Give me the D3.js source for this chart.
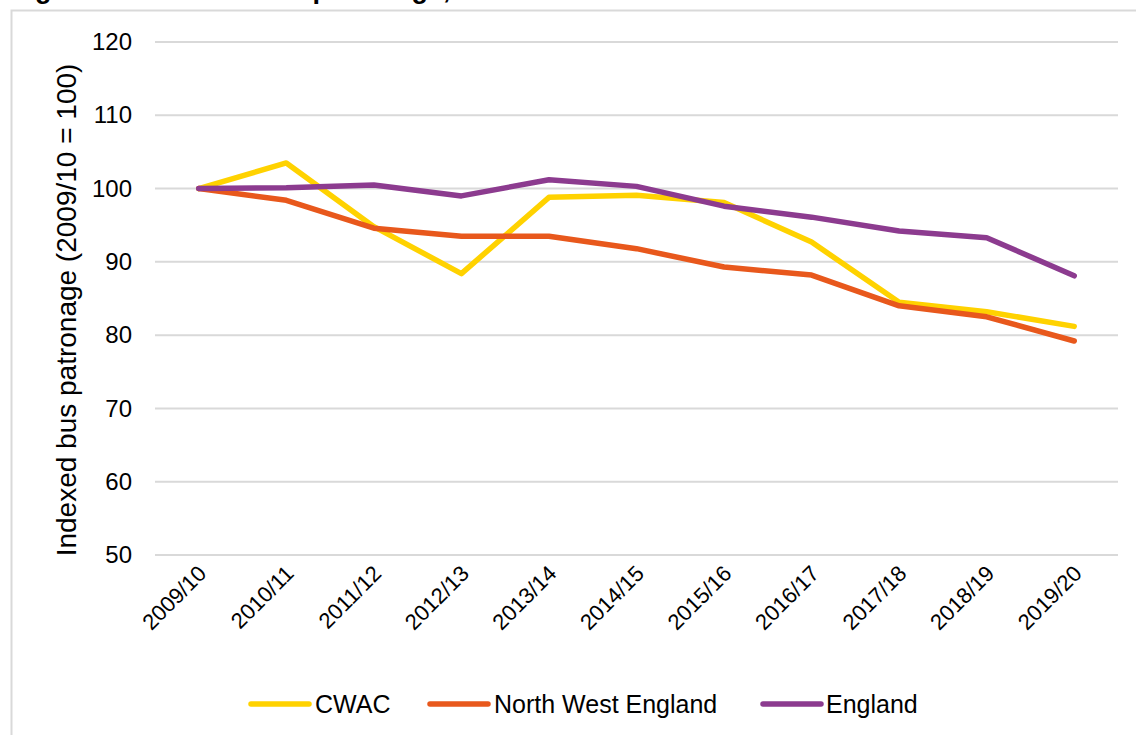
<!DOCTYPE html>
<html>
<head>
<meta charset="utf-8">
<script src="https://cdn.jsdelivr.net/npm/d3@7"></script>
<style>
  html, body { margin: 0; padding: 0; background: #fff; }
  svg { display: block; font-family: "Liberation Sans", Arial, sans-serif; }
</style>
</head>
<body>
<svg id="chart" width="1136" height="735"></svg>
<script>
// Indexed bus patronage, 2009/10 = 100
const years = ["2009/10", "2010/11", "2011/12", "2012/13", "2013/14", "2014/15",
               "2015/16", "2016/17", "2017/18", "2018/19", "2019/20"];
const cwac = [100, 103.5, 94.8, 88.4, 98.8, 99.1, 98.1, 92.7, 84.5, 83.2, 81.2];
const northWest = [100, 98.4, 94.6, 93.5, 93.5, 91.8, 89.3, 88.2, 84.0, 82.5, 79.2];
const england = [100, 100.1, 100.5, 99.0, 101.2, 100.3, 97.6, 96.1, 94.2, 93.3, 88.1];
const yTicks = [50, 60, 70, 80, 90, 100, 110, 120];

const seriesNames = ["CWAC", "North West England", "England"];
const seriesValues = [cwac, northWest, england];
const seriesColors = ["#FFD200", "#E8581C", "#8C3B8F"];

const svg = d3.select("#chart");

// Title (sits mostly above the visible area)
svg.append("text")
  .attr("x", 11).attr("y", -2)
  .attr("font-size", 27).attr("font-weight", "bold")
  .attr("fill", "#000")
  .text("Figure 10: Indexed bus patronage, 2009/10 to 2019/20");

// Chart frame
svg.append("path")
  .attr("d", "M11.5,740 V10.5 H1140")
  .attr("fill", "none").attr("stroke", "#d9d9d9").attr("stroke-width", 2);

const x = d3.scaleBand().domain(years).range([155, 1118]);
const y = d3.scaleLinear().domain([50, 120]).range([555, 42]);

// Gridlines
svg.append("g")
  .selectAll("line").data(yTicks).join("line")
  .attr("x1", 155).attr("x2", 1118)
  .attr("y1", d => y(d)).attr("y2", d => y(d))
  .attr("stroke", "#d9d9d9").attr("stroke-width", 2);

// Y axis labels
const yAxis = d3.axisLeft(y).tickValues(yTicks).tickSize(0).tickPadding(0);
const yg = svg.append("g").attr("transform", "translate(132,0)").call(yAxis);
yg.select(".domain").remove();
yg.selectAll("text").attr("font-size", 24).attr("fill", "#000")
  .attr("font-family", "Liberation Sans, Arial, sans-serif");

// X axis labels, rotated
const xAxis = d3.axisBottom(x).tickSize(0).tickPadding(0);
const xg = svg.append("g").call(xAxis);
xg.select(".domain").remove();
xg.selectAll(".tick").attr("transform", d => `translate(${x(d) + x.bandwidth() / 2 - 2},564)`);
xg.selectAll("text")
  .attr("font-size", 22).attr("fill", "#000")
  .attr("font-family", "Liberation Sans, Arial, sans-serif")
  .attr("text-anchor", "end")
  .attr("dy", "0.7em").attr("y", 0)
  .attr("transform", "rotate(-45)");

// Y axis title
svg.append("text")
  .attr("transform", "translate(76,310) rotate(-90)")
  .attr("text-anchor", "middle")
  .attr("font-size", 28).attr("fill", "#000")
  .text("Indexed bus patronage (2009/10 = 100)");

// Lines
const line = d3.line()
  .x((d, i) => x(years[i]) + x.bandwidth() / 2)
  .y(d => y(d));

svg.append("g").selectAll("path").data(seriesValues).join("path")
  .attr("d", d => line(d))
  .attr("fill", "none")
  .attr("stroke", (d, i) => seriesColors[i])
  .attr("stroke-width", 5.5)
  .attr("stroke-linejoin", "round")
  .attr("stroke-linecap", "round");

// Legend
const legendItems = [
  { x: 251, tx: 315 },
  { x: 430, tx: 494 },
  { x: 763, tx: 826 }
];
const lg = svg.append("g");
seriesNames.forEach((name, i) => {
  lg.append("line")
    .attr("x1", legendItems[i].x).attr("x2", legendItems[i].x + 58)
    .attr("y1", 704).attr("y2", 704)
    .attr("stroke", seriesColors[i]).attr("stroke-width", 5.5)
    .attr("stroke-linecap", "round");
  lg.append("text")
    .attr("x", legendItems[i].tx).attr("y", 704)
    .attr("dy", "0.35em")
    .attr("font-size", 25).attr("fill", "#000")
    .text(name);
});
</script>
</body>
</html>
